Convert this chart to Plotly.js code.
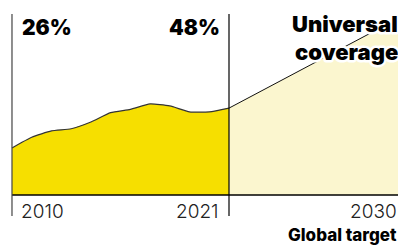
<!DOCTYPE html>
<html>
<head>
<meta charset="utf-8">
<script src="https://cdn.plot.ly/plotly-3.0.1.min.js"></script>
<style>
html,body{margin:0;padding:0;background:#fff;}
#chart{width:398px;height:246px;}
</style>
</head>
<body>
<div id="chart"></div>
<script>
const years = [2010, 2011, 2012, 2013, 2014, 2015, 2016, 2017, 2018, 2019, 2020, 2021];
const coverage = [26, 31.9, 35.4, 36.6, 40.3, 45.5, 47.3, 50.3, 49.2, 45.9, 45.9, 48];
const targetYears = [2021, 2030];
const targetValues = [48, 100];
const startLabel = "26%";
const endLabel = "48%";
const targetLines = ["Universal", "coverage"];
const tickLabels = ["2010", "2021", "2030"];
const footLabel = "Global target";

const yellow = "#F6DF00";
const lightYellow = "#FBF6CF";

const traces = [
  {x: targetYears, y: targetValues, type: "scatter", mode: "lines", fill: "tozeroy",
   fillcolor: lightYellow, line: {color: "#111", width: 1}, hoverinfo: "skip"},
  {x: years, y: coverage, type: "scatter", mode: "lines", fill: "tozeroy",
   fillcolor: yellow, line: {color: "#333", width: 1.2, shape: "spline", smoothing: 0.5}, hoverinfo: "skip"}
];

const fam = "Inter, 'Noto Sans', sans-serif";
const boldFont = {family: fam, size: 21, color: "#000", weight: 900};
const tickFont = {family: fam, size: 19, color: "#222", weight: 300};

const layout = {
  width: 398, height: 246,
  margin: {l: 0, r: 0, t: 0, b: 0},
  paper_bgcolor: "#fff", plot_bgcolor: "#fff",
  showlegend: false,
  xaxis: {range: [2009.392, 2029.567], visible: false, fixedrange: true},
  yaxis: {range: [-28.18, 107.73], visible: false, fixedrange: true},
  shapes: [
    {type: "line", xref: "x", yref: "y", x0: years[0], x1: 2029.567, y0: 0, y1: 0, line: {color: "#000", width: 1.5}},
    {type: "line", xref: "x", yref: "y", x0: years[0], x1: years[0], y0: -11.6, y1: 100, line: {color: "#444", width: 1.2}},
    {type: "line", xref: "x", yref: "y", x0: years[years.length-1], x1: years[years.length-1], y0: -11.6, y1: 100, line: {color: "#000", width: 1.2}}
  ],
  annotations: [
    {x: years[0], y: 100, xref: "x", yref: "y", xanchor: "left", yanchor: "top", xshift: 8, yshift: 1,
     text: startLabel, showarrow: false, font: boldFont},
    {x: years[years.length-1], y: 100, xref: "x", yref: "y", xanchor: "right", yanchor: "top", xshift: -7, yshift: 1,
     text: endLabel, showarrow: false, font: boldFont},
    {x: 1, y: 100, xref: "paper", yref: "y", xanchor: "right", yanchor: "top", xshift: 2, yshift: 5,
     text: targetLines[0], showarrow: false, font: Object.assign({}, boldFont, {size: 22})},
    {x: 1, y: 100, xref: "paper", yref: "y", xanchor: "right", yanchor: "top", xshift: 2, yshift: -23,
     text: targetLines[1], showarrow: false, font: Object.assign({}, boldFont, {size: 22})},
    {x: years[0], y: 0, xref: "x", yref: "y", xanchor: "left", yanchor: "top", xshift: 7, yshift: -3,
     text: tickLabels[0], showarrow: false, font: tickFont},
    {x: years[years.length-1], y: 0, xref: "x", yref: "y", xanchor: "right", yanchor: "top", xshift: -8, yshift: -3,
     text: tickLabels[1], showarrow: false, font: tickFont},
    {x: 1, y: 0, xref: "paper", yref: "y", xanchor: "right", yanchor: "top", xshift: 1, yshift: -3,
     text: tickLabels[2], showarrow: false, font: tickFont},
    {x: 1, y: 0, xref: "paper", yref: "y", xanchor: "right", yanchor: "top", xshift: 1, yshift: -28,
     text: footLabel, showarrow: false, font: Object.assign({}, boldFont, {size: 17, weight: 800})}
  ]
};

Plotly.newPlot("chart", traces, layout, {staticPlot: true, displayModeBar: false}).then(function(gd){
  gd.querySelectorAll("text.annotation-text").forEach(function(el){
    if (targetLines.indexOf(el.textContent) >= 0) {
      el.style.stroke = "#fff";
      el.style.strokeWidth = "5px";
      el.style.strokeLinejoin = "round";
      el.style.paintOrder = "stroke fill";
    }
  });
});
</script>
</body>
</html>
